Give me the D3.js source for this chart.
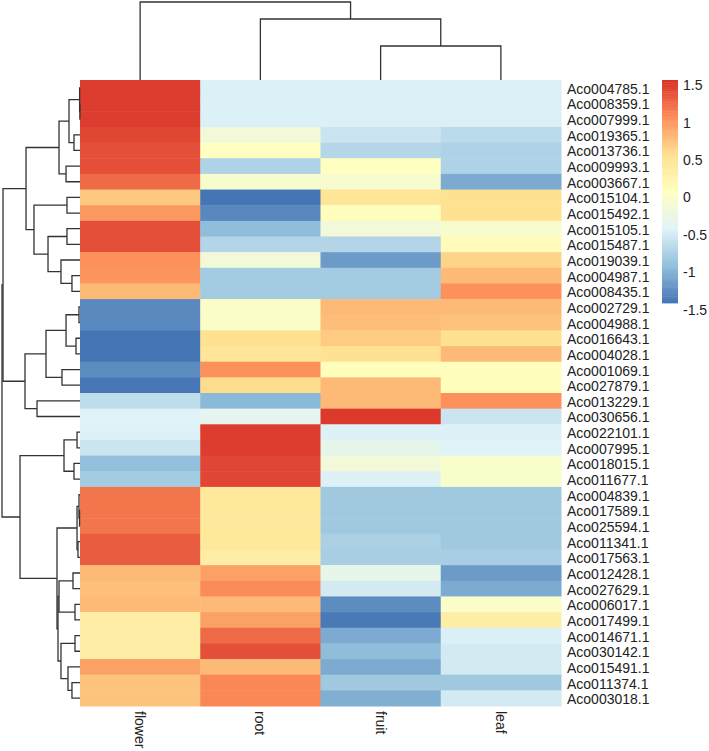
<!DOCTYPE html>
<html>
<head>
<meta charset="utf-8">
<script src="https://cdn.jsdelivr.net/npm/d3@7"></script>
<style>
  body { margin: 0; background: #fff; }
  svg { display: block; font-family: "Liberation Sans", Arial, sans-serif; }
</style>
</head>
<body>
<svg width="709" height="751"></svg>
<script>
// Columns and rows in the order the clustering put them
let colNames = ['flower', 'root', 'fruit', 'leaf'];
let rowNames = [
  'Aco004785.1', 'Aco008359.1', 'Aco007999.1', 'Aco019365.1', 'Aco013736.1',
  'Aco009993.1', 'Aco003667.1', 'Aco015104.1', 'Aco015492.1', 'Aco015105.1',
  'Aco015487.1', 'Aco019039.1', 'Aco004987.1', 'Aco008435.1', 'Aco002729.1',
  'Aco004988.1', 'Aco016643.1', 'Aco004028.1', 'Aco001069.1', 'Aco027879.1',
  'Aco013229.1', 'Aco030656.1', 'Aco022101.1', 'Aco007995.1', 'Aco018015.1',
  'Aco011677.1', 'Aco004839.1', 'Aco017589.1', 'Aco025594.1', 'Aco011341.1',
  'Aco017563.1', 'Aco012428.1', 'Aco027629.1', 'Aco006017.1', 'Aco017499.1',
  'Aco014671.1', 'Aco030142.1', 'Aco015491.1', 'Aco011374.1', 'Aco003018.1'
];

// Row-scaled expression (z-scores), one array per tissue
let flower = [1.5, 1.5, 1.5, 1.45, 1.4, 1.4, 1.25, 0.72, 1.0, 1.4,
  1.4, 1.05, 1.02, 0.8, -1.27, -1.27, -1.42, -1.42, -1.25, -1.4,
  -0.62, -0.42, -0.43, -0.55, -0.9, -0.8, 1.2, 1.2, 1.2, 1.33,
  1.33, 0.8, 0.77, 0.8, 0.35, 0.35, 0.35, 0.95, 0.75, 0.75];
let root = [-0.44, -0.44, -0.44, -0.15, 0.07, -0.72, -0.05, -1.45, -1.28, -0.92,
  -0.7, -0.15, -0.8, -0.8, 0.0, 0.0, 0.55, 0.5, 1.05, 0.6,
  -0.95, -0.32, 1.5, 1.5, 1.45, 1.45, 0.45, 0.45, 0.45, 0.45,
  0.35, 0.95, 1.08, 0.8, 0.95, 1.25, 1.4, 0.8, 1.1, 1.1];
let fruit = [-0.44, -0.44, -0.44, -0.55, -0.68, 0.08, -0.05, 0.5, 0.1, -0.15,
  -0.7, -1.15, -0.8, -0.8, 0.8, 0.78, 0.7, 0.55, 0.1, 0.8,
  0.8, 1.52, -0.43, -0.3, -0.15, -0.43, -0.82, -0.82, -0.82, -0.75,
  -0.77, -0.3, -0.5, -1.25, -1.38, -1.05, -0.92, -1.05, -0.82, -1.02];
let leaf = [-0.44, -0.44, -0.44, -0.65, -0.72, -0.72, -1.05, 0.55, 0.55, -0.03,
  0.12, 0.65, 0.8, 1.05, 0.8, 0.75, 0.55, 0.8, 0.1, 0.1,
  1.05, -0.55, -0.43, -0.42, -0.02, -0.02, -0.82, -0.82, -0.82, -0.82,
  -0.77, -1.15, -1.05, 0.0, 0.35, -0.45, -0.5, -0.5, -0.82, -0.5];

let legendTicks = [1.5, 1, 0.5, 0, -0.5, -1, -1.5];
let dataRange = [-1.407, 1.567];
let palette = ['#4575B4', '#91BFDB', '#E0F3F8', '#FFFFBF', '#FEE090', '#FC8D59', '#D73027'];

// hclust style merges: [left, right, height], negative = leaf (1-based), positive = earlier merge
let rowMerge = [
  [-2, -3, 0.02], [-1, 1, 0.05], [-4, -5, 0.77], [2, 3, 1.41], [-6, -7, 1.79],
  [4, 5, 2.69], [-8, -9, 1.67], [-10, -11, 1.67], [-13, -14, 1.03], [-12, 9, 2.44],
  [8, 10, 4.10], [7, 11, 5.90], [6, 12, 6.92], [-15, -16, 0.13], [-17, -18, 0.51],
  [14, 15, 1.79], [-19, -20, 2.31], [16, 17, 4.36], [-21, -22, 5.51], [18, 19, 7.05],
  [13, 20, 9.87], [-23, -24, 0.38], [-25, -26, 0.77], [22, 23, 2.05], [-28, -29, 0.06],
  [-27, 25, 0.13], [-30, -31, 0.26], [26, 27, 0.38], [-32, -33, 0.9], [-34, -35, 0.64],
  [29, 30, 2.69], [-36, -37, 0.64], [-39, -40, 1.03], [-38, 33, 1.54], [32, 34, 2.44],
  [31, 35, 2.82], [28, 36, 2.95], [24, 37, 7.69], [21, 38, 10]
];
let colMerge = [[-3, -4, 4.36], [-2, 1, 7.82], [-1, 2, 10]];

let svg = d3.select('svg');
let heat = {left: 80, right: 561, top: 80, bottom: 706};

let x = d3.scaleBand().domain(colNames).range([heat.left, heat.right]);
let y = d3.scaleBand().domain(rowNames).range([heat.top, heat.bottom]);

let color = d3.scaleLinear()
  .domain(d3.range(palette.length).map(i => dataRange[0] + i * (dataRange[1] - dataRange[0]) / (palette.length - 1)))
  .range(palette)
  .clamp(true);

let series = {flower: flower, root: root, fruit: fruit, leaf: leaf};
let cells = [];
rowNames.forEach((r, i) => colNames.forEach(c => cells.push({row: r, col: c, v: series[c][i]})));

svg.append('g').attr('class', 'cells')
  .selectAll('rect')
  .data(cells)
  .enter().append('rect')
    .attr('x', d => x(d.col))
    .attr('y', d => y(d.row))
    .attr('width', x.bandwidth() + 0.5)
    .attr('height', y.bandwidth() + 0.5)
    .attr('fill', d => color(d.v));

// Lay out a merge list: leaves sit at band centres, each merge at the midpoint of its children
function layout(merge, leafPos) {
  let nodes = [];
  let get = id => id < 0 ? {p: leafPos(-id - 1), h: 0} : nodes[id - 1];
  merge.forEach(m => {
    let a = get(m[0]), b = get(m[1]);
    nodes.push({p: (a.p + b.p) / 2, h: m[2], a: a, b: b});
  });
  return nodes;
}

let rowH = d3.scaleLinear().domain([0, 10]).range([heat.left, 2]);
let rowNodes = layout(rowMerge, i => y(rowNames[i]) + y.bandwidth() / 2);
svg.append('g').attr('class', 'row-dendro')
  .selectAll('path')
  .data(rowNodes)
  .enter().append('path')
    .attr('d', n => `M${rowH(n.a.h)},${n.a.p}H${rowH(n.h)}V${n.b.p}H${rowH(n.b.h)}`)
    .attr('fill', 'none')
    .attr('stroke', '#333')
    .attr('stroke-width', 1.3);

let colH = d3.scaleLinear().domain([0, 10]).range([heat.top, 2]);
let colNodes = layout(colMerge, i => x(colNames[i]) + x.bandwidth() / 2);
svg.append('g').attr('class', 'col-dendro')
  .selectAll('path')
  .data(colNodes)
  .enter().append('path')
    .attr('d', n => `M${n.a.p},${colH(n.a.h)}V${colH(n.h)}H${n.b.p}V${colH(n.b.h)}`)
    .attr('fill', 'none')
    .attr('stroke', '#333')
    .attr('stroke-width', 1.3);

// Row labels
svg.append('g').attr('class', 'row-labels')
  .selectAll('text')
  .data(rowNames)
  .enter().append('text')
    .attr('x', 567)
    .attr('y', d => y(d) + y.bandwidth() / 2 + 6)
    .attr('font-size', '14px')
    .attr('fill', '#222')
    .text(d => d);

// Column labels, turned to read downwards
svg.append('g').attr('class', 'col-labels')
  .selectAll('text')
  .data(colNames)
  .enter().append('text')
    .attr('transform', d => `translate(${x(d) + x.bandwidth() / 2 - 5},711) rotate(90)`)
    .attr('font-size', '14px')
    .attr('fill', '#222')
    .text(d => d);

// Legend
let legendY = d3.scaleLinear().domain([dataRange[1], dataRange[0]]).range([80, 303]);
let steps = d3.range(100).map(i => dataRange[1] - (i + 0.5) * (dataRange[1] - dataRange[0]) / 100);
let stepH = (303 - 80) / 100;
let legend = svg.append('g').attr('class', 'legend');
legend.selectAll('rect')
  .data(steps)
  .enter().append('rect')
    .attr('x', 662)
    .attr('y', (d, i) => 80 + i * stepH)
    .attr('width', 16)
    .attr('height', stepH + 0.4)
    .attr('fill', d => color(d));
legend.selectAll('text')
  .data(legendTicks)
  .enter().append('text')
    .attr('x', 683)
    .attr('y', d => legendY(d) + 5)
    .attr('font-size', '14px')
    .attr('fill', '#222')
    .text(d => d);
</script>
</body>
</html>
